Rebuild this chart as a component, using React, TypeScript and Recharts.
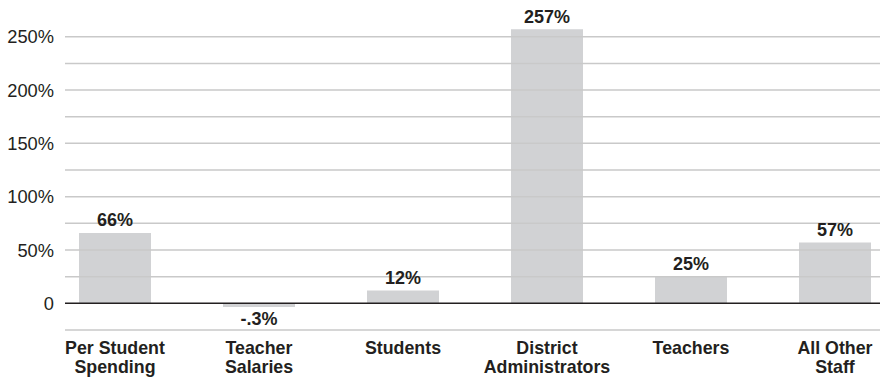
import React from "react";
import { BarChart, Bar, XAxis, YAxis, ReferenceLine, LabelList } from "recharts";

const categories = [
  "Per Student\nSpending",
  "Teacher\nSalaries",
  "Students",
  "District\nAdministrators",
  "Teachers",
  "All Other\nStaff",
];
const values = [66, -3.5, 12, 257, 25, 57];
const valueLabels = ["66%", "-.3%", "12%", "257%", "25%", "57%"];
const gridTicks = [-25, 25, 50, 75, 100, 125, 150, 175, 200, 225, 250];
const labelTicks = [0, 50, 100, 150, 200, 250];
const categoryIndex = [0, 1, 2, 3, 4, 5];

const data = categories.map((c, i) => ({ idx: categoryIndex[i], name: c, value: values[i], label: valueLabels[i] }));

const TEXT = "#231f20";
const FONT = "Arial, 'Liberation Sans', Helvetica, sans-serif";

const XTick = (props: any) => {
  const { x, y, payload } = props;
  const lines = String(categories[payload.value] ?? "").split("\n");
  return (
    <text x={x} y={y} textAnchor="middle" fill={TEXT} fontFamily={FONT} fontWeight="bold" fontSize={17.8}>
      {lines.map((l, i) => (
        <tspan key={i} x={x} dy={i === 0 ? 16 : 18.5}>
          {l}
        </tspan>
      ))}
    </text>
  );
};

const ValueLabel = (props: any) => {
  const { x, y, width, height, index } = props;
  const v = values[index];
  const top = Math.min(y, y + height);
  const bottom = Math.max(y, y + height);
  const cx = x + width / 2;
  return (
    <text
      x={cx}
      y={v >= 0 ? top - 6.5 : bottom + 17.5}
      textAnchor="middle"
      fill={TEXT}
      fontFamily={FONT}
      fontWeight="bold"
      fontSize={18}
    >
      {valueLabels[index]}
    </text>
  );
};

export default function App() {
  return (
    <div style={{ position: "absolute", left: 0, top: 0, background: "#fff" }}>
      <BarChart
        width={880}
        height={379}
        data={data}
        margin={{ top: 17, right: 0, bottom: 0, left: 0 }}
      >
        <XAxis
          dataKey="idx"
          type="number"
          domain={[-50 / 144, 765 / 144]}
          ticks={categoryIndex}
          interval={0}
          allowDataOverflow
          axisLine={false}
          tickLine={false}
          height={49}
          tick={<XTick />}
        />
        <YAxis
          width={65}
          domain={[-25, 268.5]}
          ticks={labelTicks}
          axisLine={false}
          tickLine={false}
          tickMargin={5}
          tick={{ fill: TEXT, fontSize: 18.3, fontFamily: FONT }}
          tickFormatter={(v: number) => (v === 0 ? "0" : `${v}%`)}
          allowDataOverflow
        />
        <Bar dataKey="value" fill="#d1d2d4" barSize={72} isAnimationActive={false}>
          <LabelList dataKey="label" content={<ValueLabel />} />
        </Bar>
        {gridTicks.map((t) => (
          <ReferenceLine key={t} y={t} stroke="#c9c9c9" strokeWidth={1.5} />
        ))}
        <ReferenceLine y={0} stroke="#231f20" strokeWidth={1.5} />
      </BarChart>
    </div>
  );
}
